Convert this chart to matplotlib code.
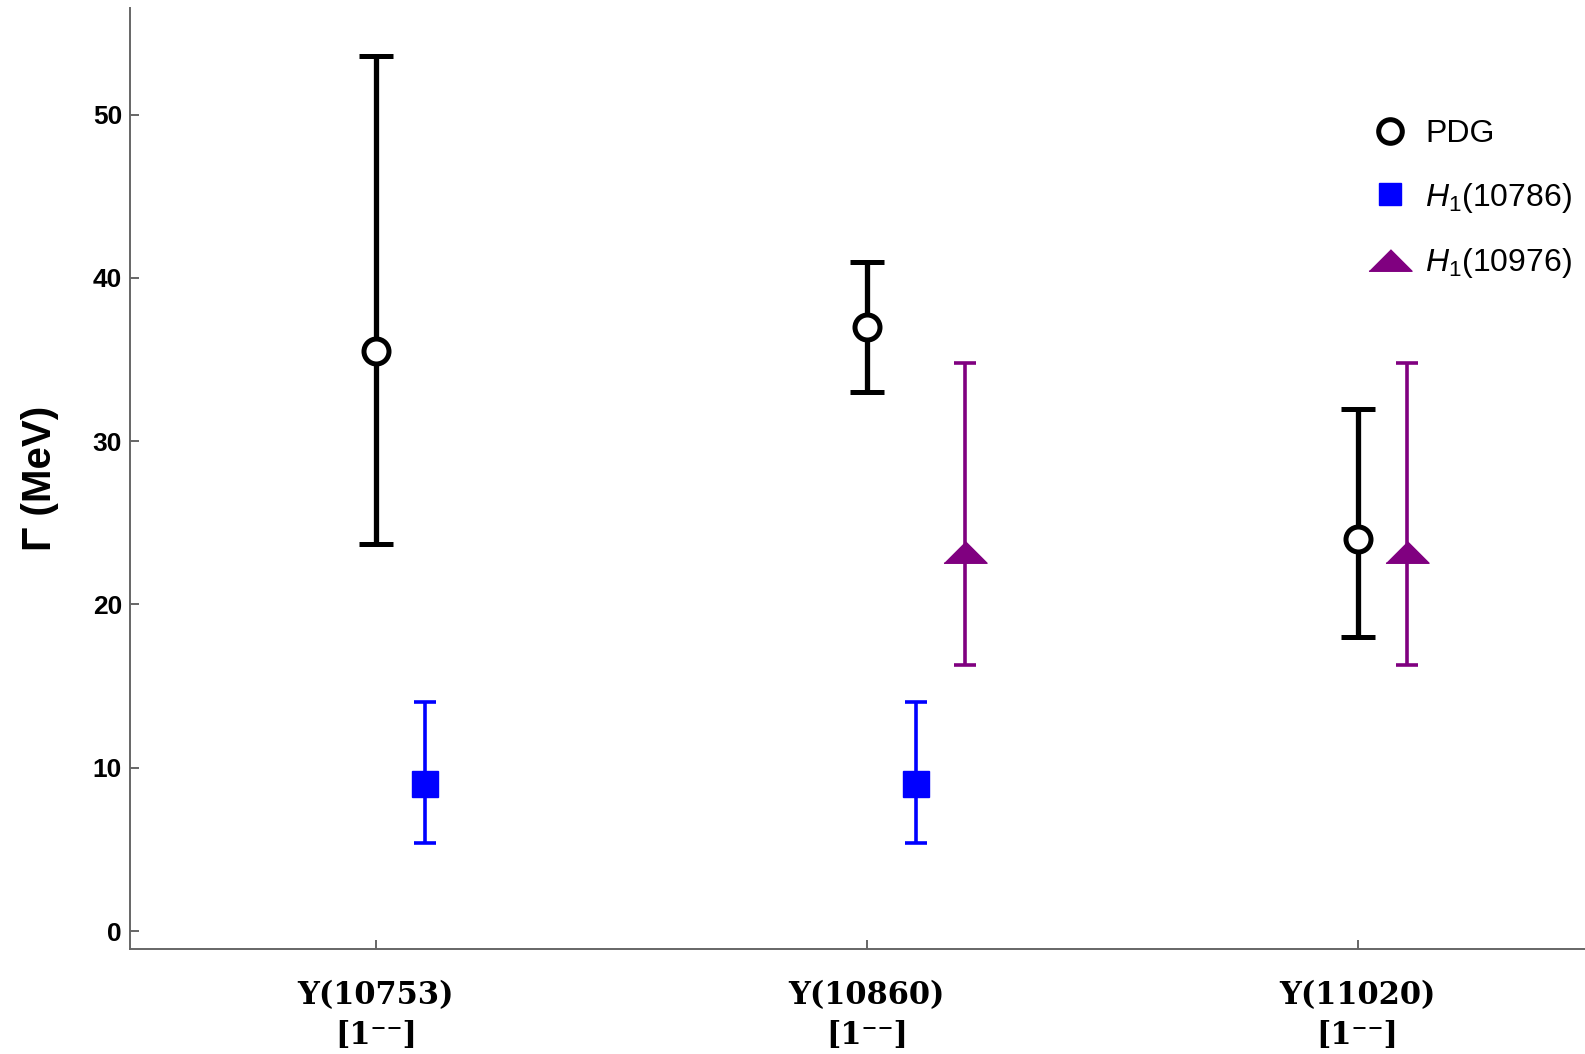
import matplotlib
matplotlib.use("Agg")
import matplotlib.pyplot as plt
from matplotlib.lines import Line2D
import numpy as np

categories = ["Υ(10753)", "Υ(10860)", "Υ(11020)"]
jpc = ["[1⁻⁻]", "[1⁻⁻]", "[1⁻⁻]"]

pdg_val = [35.5, 37.0, 24.0]
pdg_hi = [53.6, 41.0, 32.0]
pdg_lo = [23.7, 33.0, 18.0]

h10786_cat = [0, 1]
h10786_val = [9.0, 9.0]
h10786_hi = [14.05, 14.05]
h10786_lo = [5.4, 5.4]

h10976_cat = [1, 2]
h10976_val = [23.2, 23.2]
h10976_hi = [34.8, 34.8]
h10976_lo = [16.3, 16.3]

plt.rcParams['mathtext.fontset'] = 'custom'
plt.rcParams['mathtext.rm'] = 'Liberation Sans'
plt.rcParams['mathtext.it'] = 'Liberation Sans:italic'

fig = plt.figure(figsize=(15.85, 10.54), dpi=100)
ax = fig.add_axes([0.0823, 0.0996, 0.9177, 0.8924])

xpos = np.arange(1, len(categories) + 1)

def err(v, lo, hi):
    v = np.array(v); return [v - np.array(lo), np.array(hi) - v]

ax.errorbar(xpos, pdg_val, yerr=err(pdg_val, pdg_lo, pdg_hi), fmt='o', color='black',
            mfc='white', mec='black', ms=18, mew=3.6, elinewidth=3.8, capsize=12.5,
            capthick=3.8, zorder=3)

bx = np.array([xpos[i] for i in h10786_cat]) + 0.1
ax.errorbar(bx, h10786_val, yerr=err(h10786_val, h10786_lo, h10786_hi), fmt='s', color='#0000ff',
            mfc='#0000ff', mec='#0000ff', ms=19, elinewidth=2.6, capsize=8,
            capthick=2.6, zorder=3)

tri = [(-1, -0.5), (1, -0.5), (0, 0.5)]
px = np.array([xpos[i] for i in h10976_cat]) + np.array([0.2, 0.1])
ax.errorbar(px, h10976_val, yerr=err(h10976_val, h10976_lo, h10976_hi), fmt='none',
            ecolor='#800080', elinewidth=2.6, capsize=8, capthick=2.6, zorder=3)
ax.plot(px, h10976_val, linestyle='none', marker=tri, ms=31, color='#800080',
        mec='#800080', zorder=4)

ax.set_xlim(0.5, 3.463)
ax.set_ylim(-1.1, 56.5)
ax.set_yticks([0, 10, 20, 30, 40, 50])
ax.set_xticks(xpos)
ax.set_xticklabels([f"{c}\n{j}" for c, j in zip(categories, jpc)],
                   fontsize=22, fontweight='bold',
                   family=['DejaVu Serif'], linespacing=1.4)
for lab in ax.get_yticklabels():
    lab.set_fontsize(19)
    lab.set_fontweight('bold')
    lab.set_family('Liberation Sans')

for s in ['top', 'right']:
    ax.spines[s].set_visible(False)
for s in ['left', 'bottom']:
    ax.spines[s].set_color('#666666')
    ax.spines[s].set_linewidth(1.4)
ax.tick_params(axis='both', direction='in', length=6.5, width=1.4, color='#666666')
ax.tick_params(axis='y', pad=6)
ax.tick_params(axis='x', pad=22)

ax.set_ylabel('Γ (MeV)', fontsize=29, fontweight='bold', family='Liberation Sans')
ax.yaxis.set_label_coords(-0.049, 0.5)

handles = [
    Line2D([], [], linestyle='none', marker='o', ms=17, mew=3.6, mfc='white', mec='black'),
    Line2D([], [], linestyle='none', marker='s', ms=16, mfc='#0000ff', mec='#0000ff'),
    Line2D([], [], linestyle='none', marker=tri, ms=31, mfc='#800080', mec='#800080'),
]
labels = ['PDG', '$H_1$(10786)', '$H_1$(10976)']
leg = ax.legend(handles, labels, loc='upper right', bbox_to_anchor=(1.0, 0.899),
                bbox_transform=fig.transFigure, frameon=False, labelspacing=0.98,
                handlelength=1.6, handletextpad=0.3, borderaxespad=0,
                prop={'family': 'Liberation Sans', 'size': 23})

fig.savefig('out.png', dpi=100)
